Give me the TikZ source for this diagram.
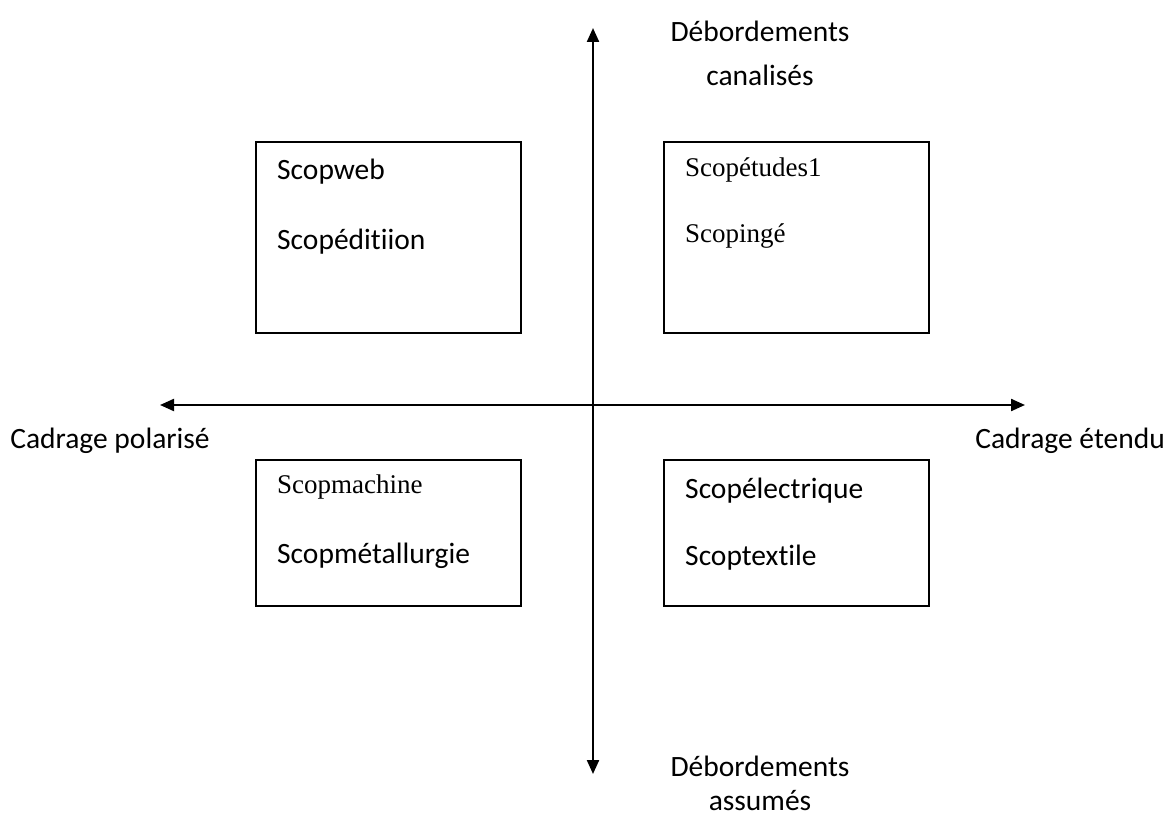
\documentclass[tikz,border=0pt]{standalone}
\usepackage{fontspec}
\setmainfont{Carlito}[Ligatures={NoCommon}]
\newfontfamily\garfont{Liberation Serif}
\usetikzlibrary{arrows.meta}
\begin{document}
\begin{tikzpicture}[x=1pt,y=-1pt,
  qbox/.style={draw,line width=1.4pt},
  axis/.style={line width=2.2pt,{Triangle[length=14pt,width=12pt]}-{Triangle[length=14pt,width=12pt]}},
  lbl/.style={font=\fontsize{29.5}{34}\selectfont,inner sep=0pt},
  glbl/.style={font=\garfont\fontsize{27}{32}\selectfont,inner sep=0pt}]
\useasboundingbox (0,0) rectangle (1164,818);
\coordinate (top) at (593,28);
\coordinate (bot) at (593,774);
\coordinate (lft) at (160,405);
\coordinate (rgt) at (1025,405);
\draw[axis] (bot) -- (top);
\draw[axis] (lft) -- (rgt);
\draw[qbox] (256,142) rectangle (521,333);
\draw[qbox] (664,142) rectangle (929,333);
\draw[qbox] (256,460) rectangle (521,606);
\draw[qbox] (664,460) rectangle (929,606);
\node[lbl,anchor=west] (a1) at (277,172) {Scopweb};
\node[lbl,anchor=west] (a2) at (277,242) {Scopéditiion};
\node[glbl,anchor=west] (b1) at (685,170) {Scopétudes1};
\node[glbl,anchor=west] (b2) at (685,236) {Scopingé};
\node[glbl,anchor=west] (c1) at (277,487) {Scopmachine};
\node[lbl,anchor=west] (c2) at (277,556) {Scopmétallurgie};
\node[lbl,anchor=west] (d1) at (685,491) {Scopélectrique};
\node[lbl,anchor=west] (d2) at (685,558) {Scoptextile};
\node[lbl] (t1) at (760,31) {Débordements};
\node[lbl] (t2) at (760,75) {canalisés};
\node[lbl] (l1) at (110,441) {Cadrage polarisé};
\node[lbl] (r1) at (1070,441) {Cadrage étendu};
\node[lbl] (u1) at (760,766) {Débordements};
\node[lbl] (u2) at (760,801) {assumés};
\end{tikzpicture}
\end{document}
